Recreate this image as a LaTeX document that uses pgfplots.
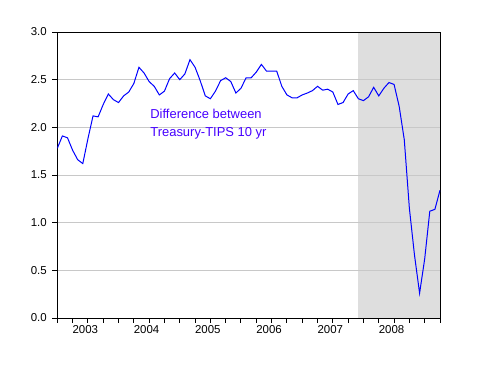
\documentclass[border=0pt]{standalone}
\usepackage{pgfplots}
\pgfplotsset{compat=1.18}
\usepackage{fontspec}
\setmainfont{Liberation Sans}
\definecolor{shade}{RGB}{222,222,222}
\definecolor{gridc}{RGB}{200,200,200}
\definecolor{txtc}{RGB}{70,0,255}
\begin{document}
\begin{tikzpicture}
\begin{axis}[
  set layers,
  scale only axis,
  width=382.7bp, height=286bp,
  xmin=0, xmax=75, ymin=0, ymax=3,
  axis line style={black, line width=1bp},
  xtick={0,3,...,75},
  xticklabels={},
  extra x ticks={5.5,17.5,29.5,41.5,53.5,65.5},
  extra x tick labels={2003,2004,2005,2006,2007,2008},
  extra x tick style={major tick length=0pt},
  ytick={0,0.5,...,3},
  yticklabel style={/pgf/number format/fixed, /pgf/number format/precision=1, /pgf/number format/fixed zerofill},
  /pgf/number format/assume math mode=true,
  tick align=outside,
  major tick length=5bp,
  tick style={black, line width=1bp},
  xtick pos=bottom, ytick pos=left,
  ymajorgrids,
  grid style={gridc, line width=1bp},
  ticklabel style={font=\fontsize{11.5}{12}\selectfont},
  xticklabel style={yshift=-4bp},
  yticklabel style={xshift=-2bp},
]
\addplot[fill=shade, draw=none, on layer=axis background] coordinates {(59,3) (75,3)} \closedcycle;
\addplot[blue, line width=1bp, mark=none] coordinates {
(0,1.78) (1,1.91) (2,1.89) (3,1.76) (4,1.66) (5,1.62) (6,1.88) (7,2.12) (8,2.11) (9,2.24)
(10,2.35) (11,2.29) (12,2.26) (13,2.33) (14,2.37) (15,2.46) (16,2.63) (17,2.57) (18,2.48) (19,2.43)
(20,2.34) (21,2.38) (22,2.51) (23,2.57) (24,2.50) (25,2.56) (26,2.71) (27,2.63) (28,2.49) (29,2.33)
(30,2.30) (31,2.38) (32,2.49) (33,2.52) (34,2.48) (35,2.36) (36,2.41) (37,2.52) (38,2.52) (39,2.58)
(40,2.66) (41,2.59) (42,2.59) (43,2.59) (44,2.43) (45,2.34) (46,2.31) (47,2.31) (48,2.34) (49,2.36)
(50,2.385) (51,2.43) (52,2.39) (53,2.40) (54,2.37) (55,2.24) (56,2.26) (57,2.35) (58,2.385) (59,2.30)
(60,2.28) (61,2.32) (62,2.42) (63,2.33) (64,2.41) (65,2.47) (66,2.45) (67,2.22) (68,1.87) (69,1.15)
(70,0.66) (71,0.26) (72,0.62) (73,1.12) (74,1.14) (75,1.34)
};
\node[anchor=north west, inner sep=0pt, align=left, text=txtc, font=\fontsize{13}{17.5}\selectfont] at (axis cs:18.2,2.19) {Difference between\\Treasury-TIPS 10 yr};
\end{axis}
\path (-57.3bp,-48bp) rectangle (423.7bp,318bp);
\end{tikzpicture}
\end{document}
